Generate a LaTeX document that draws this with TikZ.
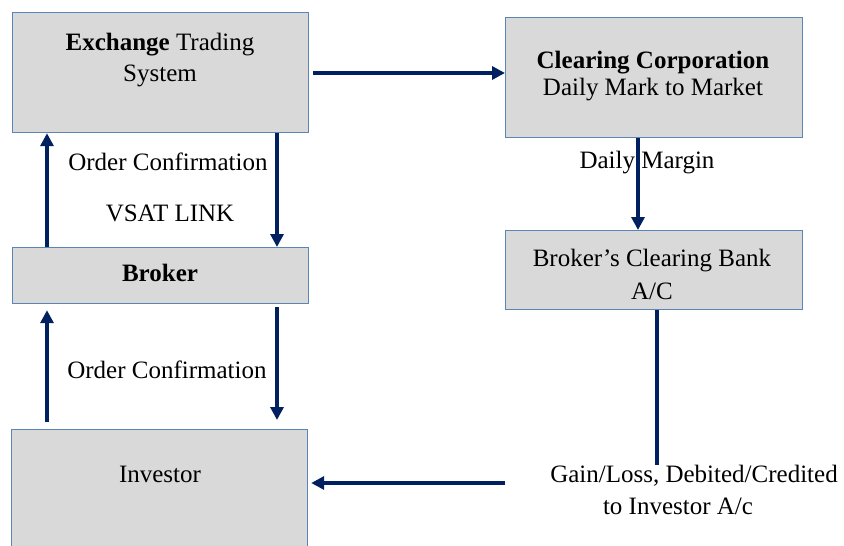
\documentclass[tikz,border=0pt]{standalone}
\usepackage{fontspec}
\setmainfont{LiberationSerif}[Extension=.ttf, UprightFont=*-Regular, BoldFont=*-Bold, ItalicFont=*-Italic, BoldItalicFont=*-BoldItalic]
\usetikzlibrary{positioning, arrows.meta, calc}
\definecolor{boxfill}{HTML}{D9D9D9}
\definecolor{boxline}{HTML}{5B86B4}
\definecolor{flownavy}{HTML}{002060}

\begin{document}
\begin{tikzpicture}[
        x=1pt, y=-1pt,
        box/.style={draw=boxline, line width=1.2pt, fill=boxfill, rectangle, anchor=north west, inner sep=0pt},
        box_text/.style={align=center, inner sep=0pt, font=\fontsize{25}{31}\selectfont},
        flow/.style={draw=flownavy, line width=3.6pt, -{Triangle[length=13pt, width=13pt]}},
        plain_line/.style={draw=flownavy, line width=3.6pt}
    ]
        \useasboundingbox (0,0) rectangle (844,546);
        \clip (0,0) rectangle (844,546);

        % Boxes
        \node[box, minimum width=296pt, minimum height=120pt] (ets) at (12,12) {};
        \node[box, minimum width=297pt, minimum height=120pt] (ccl) at (505,17) {};
        \node[box, minimum width=297pt, minimum height=79pt] (bank) at (505,230) {};
        \node[box, minimum width=296pt, minimum height=56pt] (brk) at (12,247) {};
        \node[box, minimum width=296pt, minimum height=140pt] (inv) at (11,429) {};

        % Texts
        \node[box_text] (ets_t) at (160,60) {\textbf{Exchange} Trading\\System};
        \node[box_text, font=\fontsize{25}{27}\selectfont] (ccl_t) at (653,76) {\textbf{Clearing Corporation}\\Daily Mark to Market};
        \node[box_text, font=\fontsize{25}{33}\selectfont] (bank_t) at (652,274) {Broker's Clearing Bank\\A/C};
        \node[box_text] (brk_t) at (160,273) {\textbf{Broker}};
        \node[box_text] (inv_t) at (160,474) {Investor};

        \node[box_text] (oc_up) at (168,162) {Order Confirmation};
        \node[box_text] (vsat) at (170,213) {VSAT LINK};
        \node[box_text] (dm) at (647,163) {Daily Margin};
        \node[box_text] (oc_low) at (167,370) {Order Confirmation};
        \node[box_text, font=\fontsize{25}{32}\selectfont] (gain) at (694,490) {Gain/Loss, Debited/Credited\\to Investor A/c\hspace*{32pt}};

        % Edges
        \coordinate (lx) at (47,0);
        \coordinate (rx) at (277,0);
        \coordinate (mx) at (638,0);
        \coordinate (bx) at (657,0);
        \coordinate (ty) at (0,73);
        \coordinate (gl) at (505,483);

        \draw[flow, shorten <=4pt] (ets.east |- ty) -- (ccl.west |- ty);
        \draw[flow] (ccl.south -| mx) -- (bank.north -| mx);
        \draw[plain_line] (bank.south -| bx) -- (gain.north -| bx);
        \draw[flow, shorten >=3pt] (gl) -- (inv.east |- gl);

        \draw[flow] (brk.north -| lx) -- (ets.south -| lx);
        \draw[flow] (ets.south -| rx) -- (brk.north -| rx);
        \draw[flow, shorten <=7pt, shorten >=6pt] (inv.north -| lx) -- (brk.south -| lx);
        \draw[flow, shorten <=3pt, shorten >=9pt] (brk.south -| rx) -- (inv.north -| rx);
    \end{tikzpicture}
\end{document}
